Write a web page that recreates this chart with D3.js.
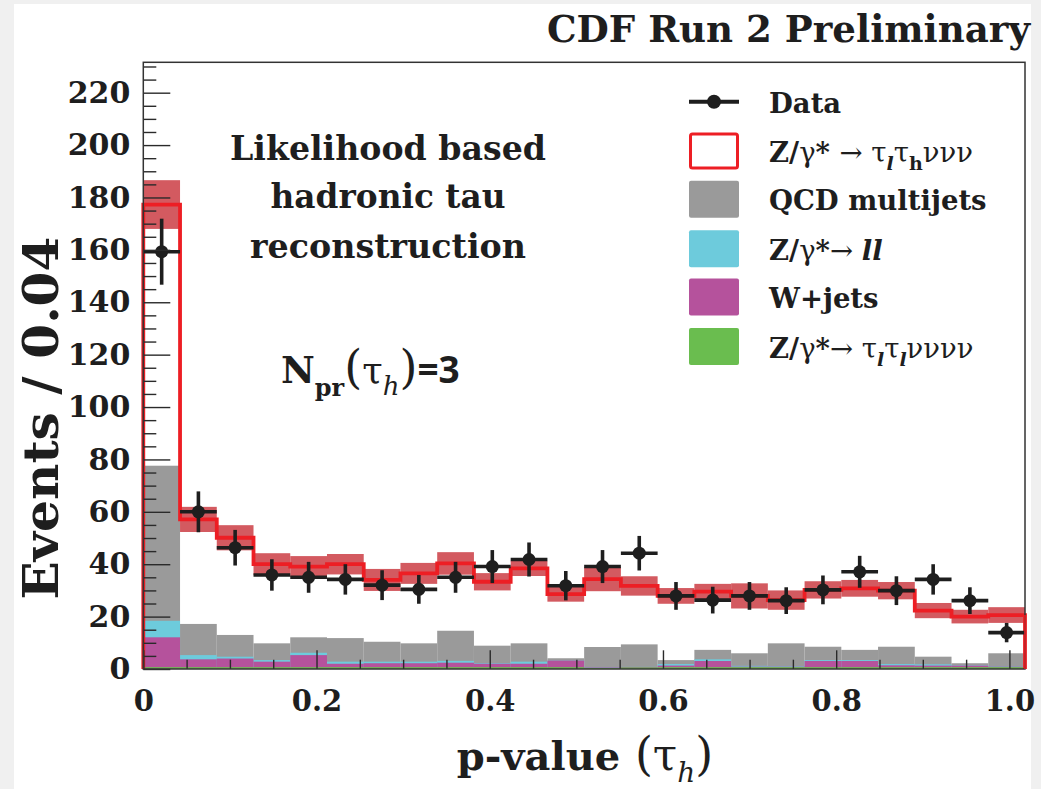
<!DOCTYPE html>
<html>
<head>
<meta charset="utf-8">
<script src="https://cdn.jsdelivr.net/npm/d3@7"></script>
<style>
  body { margin: 0; background: #f0f0f0; }
  svg { display: block; }
</style>
</head>
<body>
<svg id="chart" width="1041" height="789"></svg>
<script>
// values: 24 bins over p-value 0 .. 1.018
var xMax = 1.018;
var dataVals = [159.3, 60.0, 46.3, 35.9, 35.0, 34.2, 32.0, 30.4, 35.0, 39.1, 41.8, 31.8,
                39.1, 44.2, 27.9, 26.3, 27.9, 26.1, 30.2, 37.1, 29.9, 34.2, 26.1, 13.9];
var dataErr  = [12.6, 7.8, 6.8, 6.0, 5.9, 5.8, 5.7, 5.5, 5.9, 6.3, 6.5, 5.6,
                6.3, 6.6, 5.3, 5.1, 5.3, 5.1, 5.5, 6.1, 5.5, 5.8, 5.1, 3.7];
// stacked MC components (bottom to top)
var zttLL  = [0.7, 0.7, 0.7, 0.7, 0.7, 0.7, 0.7, 0.7, 0.7, 0.7, 0.7, 0.7,
              0.4, 0.6, 0.7, 0.7, 0.7, 0.7, 0.7, 0.7, 0.7, 0.7, 0.7, 0.7];
var wjets  = [11.4, 3.0, 3.3, 2.1, 4.6, 1.3, 1.5, 1.5, 1.7, 1.3, 1.3, 2.5,
              0.2, 0.1, 0.6, 2.35, 0.2, 0.2, 2.35, 2.35, 0.7, 0.6, 0.6, 0.2];
var zll    = [6.3, 1.6, 0.7, 0.6, 0.9, 0.8, 0.6, 0.6, 0.7, 0.2, 0.8, 0.0,
              0.1, 0.1, 0.6, 0.65, 0.3, 0.2, 0.35, 0.35, 0.5, 0.5, 0.1, 0.1];
var qcd    = [59.2, 11.9, 8.3, 6.4, 5.9, 9.0, 7.6, 7.0, 11.5, 6.7, 7.0, 0.9,
              7.7, 8.6, 1.5, 3.6, 4.8, 8.7, 5.1, 3.9, 6.6, 2.9, 0.8, 5.0];
var signal = [99.7, 39.9, 37.1, 30.2, 27.0, 28.2, 23.6, 26.7, 25.7, 24.4, 28.6, 24.5,
              25.9, 22.3, 24.5, 22.2, 21.9, 16.5, 21.7, 23.5, 21.4, 17.6, 17.8, 14.6];
var bandErr = [9.3, 4.8, 4.8, 4.2, 4.0, 3.9, 4.2, 4.0, 4.3, 3.3, 2.9, 2.9,
               4.6, 3.7, 3.0, 3.0, 4.8, 3.7, 3.3, 3.2, 3.3, 2.9, 2.6, 3.0];
var yTicks = [0, 20, 40, 60, 80, 100, 120, 140, 160, 180, 200, 220];
var xTicks = [0, 0.2, 0.4, 0.6, 0.8, 1.0];
var xTickLabels = ["0", "0.2", "0.4", "0.6", "0.8", "1.0"];

var serif = "'DejaVu Serif', serif";
var inkColor = "#1e1e1e";

var svg = d3.select("#chart");
svg.append("rect").attr("x", 14).attr("y", 4).attr("width", 1017).attr("height", 785).attr("fill", "#fff");

var x = d3.scaleLinear().domain([0, xMax]).range([143.3, 1025]);
var y = d3.scaleLinear().domain([0, 231.6]).range([669, 62.3]);
var nBins = dataVals.length;
var bw = xMax / nBins;

var bins = dataVals.map(function(d, i) {
  return {i: i, ztt: zttLL[i], wjets: wjets[i], zll: zll[i], qcd: qcd[i], sig: signal[i]};
});
var keys = ["ztt", "wjets", "zll", "qcd", "sig"];
var colors = {ztt: "#6abd4f", wjets: "#b5529c", zll: "#6dcbdc", qcd: "#9a9a9a", sig: "#ffffff"};
var layers = d3.stack().keys(keys)(bins);

// draw the stack, biggest layer first so the thin ones stay visible
var plot = svg.append("g");
layers.slice().reverse().forEach(function(layer) {
  if (layer.key === "sig") return;
  plot.append("g").selectAll("rect")
    .data(layer)
    .enter().append("rect")
    .attr("x", function(d, i) { return x(i * bw); })
    .attr("width", function(d, i) { return x((i + 1) * bw) - x(i * bw); })
    .attr("y", function(d) { return y(d[1]); })
    .attr("height", function(d) { return y(0) - y(d[1]); })
    .attr("fill", colors[layer.key]);
});

var totals = layers[layers.length - 1].map(function(d) { return d[1]; });

// uncertainty band
plot.append("g").selectAll("rect")
  .data(totals)
  .enter().append("rect")
  .attr("x", function(d, i) { return x(i * bw); })
  .attr("width", function(d, i) { return x((i + 1) * bw) - x(i * bw); })
  .attr("y", function(d, i) { return y(d + bandErr[i]); })
  .attr("height", function(d, i) { return y(d - bandErr[i]) - y(d + bandErr[i]); })
  .attr("fill", "#d35a60");

// red outline of the total
var pts = [[0, 0]];
totals.forEach(function(t, i) { pts.push([i * bw, t]); });
pts.push([xMax, totals[nBins - 1]]);
pts.push([xMax, 0]);
var stepLine = d3.line()
  .x(function(d) { return x(d[0]); })
  .y(function(d) { return y(d[1]); })
  .curve(d3.curveStepAfter);
plot.append("path").attr("d", stepLine(pts))
  .attr("fill", "none").attr("stroke", "#ed1e24").attr("stroke-width", 3.8);

// data points
var pg = svg.append("g");
dataVals.forEach(function(v, i) {
  var cx = x((i + 0.5) * bw);
  pg.append("line").attr("x1", x(i * bw)).attr("x2", x((i + 1) * bw))
    .attr("y1", y(v)).attr("y2", y(v)).attr("stroke", inkColor).attr("stroke-width", 3.6);
  pg.append("line").attr("x1", cx).attr("x2", cx)
    .attr("y1", y(v + dataErr[i])).attr("y2", y(v - dataErr[i])).attr("stroke", inkColor).attr("stroke-width", 3.6);
  pg.append("circle").attr("cx", cx).attr("cy", y(v)).attr("r", 6.5).attr("fill", inkColor);
});

// axes
var tickCol = "#2a2a2a";
function styleAxis(g) {
  g.select(".domain").remove();
  g.selectAll(".tick line").attr("stroke", tickCol).attr("stroke-width", 1.4);
}
var yMinor = d3.range(0, 231, 5).filter(function(v) { return v % 20 !== 0; });
svg.append("g").attr("transform", "translate(" + x(0) + ",0)")
  .call(d3.axisLeft(y).tickValues(yMinor).tickSizeInner(-13).tickSizeOuter(0).tickFormat(""))
  .call(styleAxis);
var yAx = svg.append("g").attr("transform", "translate(" + x(0) + ",0)")
  .call(d3.axisLeft(y).tickValues(yTicks).tickSizeInner(-27).tickSizeOuter(0).tickPadding(13))
  .call(styleAxis);
yAx.selectAll("text").attr("font-family", serif).attr("font-weight", "bold")
  .attr("font-size", 30).attr("fill", inkColor);

var xMinor = d3.range(0, 1.001, 0.05).filter(function(v) { return Math.abs(v / 0.2 - Math.round(v / 0.2)) > 1e-6; });
svg.append("g").attr("transform", "translate(0," + y(0) + ")")
  .call(d3.axisBottom(x).tickValues(xMinor).tickSizeInner(-9.3).tickSizeOuter(0).tickFormat(""))
  .call(styleAxis);
var xAx = svg.append("g").attr("transform", "translate(0," + y(0) + ")")
  .call(d3.axisBottom(x).tickValues(xTicks).tickSizeInner(-18.7).tickSizeOuter(0).tickPadding(21)
        .tickFormat(function(d, i) { return xTickLabels[i]; }))
  .call(styleAxis);
xAx.selectAll("text").attr("font-family", serif).attr("font-weight", "bold")
  .attr("font-size", 29).attr("fill", inkColor);

// frame
svg.append("rect").attr("x", x(0)).attr("y", y.range()[1])
  .attr("width", x(xMax) - x(0)).attr("height", y(0) - y.range()[1])
  .attr("fill", "none").attr("stroke", "#333").attr("stroke-width", 1.5);
// red outline sits on the frame edges
svg.append("line").attr("x1", x(xMax)).attr("x2", x(xMax)).attr("y1", y(totals[nBins - 1])).attr("y2", y(0))
  .attr("stroke", "#ed1e24").attr("stroke-width", 1.5);

// rich text helper: parts with optional subscript / weight / style
function rich(sel, parts) {
  var shift = 0;
  parts.forEach(function(p) {
    var ts = sel.append("tspan").text(p.t);
    var want = p.sub ? (p.dy || 8) : 0;
    if (want !== shift) { ts.attr("dy", want - shift); shift = want; }
    if (p.size) ts.attr("font-size", p.size);
    if (p.w) ts.attr("font-weight", p.w);
    if (p.i) ts.attr("font-style", "italic");
    if (p.fam) ts.attr("font-family", p.fam);
  });
}

// titles
svg.append("text").attr("x", 1030).attr("y", 42).attr("text-anchor", "end")
  .attr("font-family", serif).attr("font-weight", "bold").attr("font-size", 38)
  .attr("fill", inkColor).attr("textLength", 483).attr("lengthAdjust", "spacingAndGlyphs")
  .text("CDF Run 2 Preliminary");

svg.append("text").attr("transform", "translate(58,418) rotate(-90)").attr("text-anchor", "middle")
  .attr("font-family", serif).attr("font-weight", "bold").attr("font-size", 49)
  .attr("fill", inkColor).attr("textLength", 363).attr("lengthAdjust", "spacingAndGlyphs")
  .text("Events / 0.04");

var xl = svg.append("text").attr("x", 585).attr("y", 770).attr("text-anchor", "middle")
  .attr("font-family", serif).attr("font-weight", "bold").attr("font-size", 40).attr("fill", inkColor);
rich(xl, [{t: "p-value"}, {t: " (", w: "normal", size: 46}, {t: "τ", w: "normal", size: 44},
          {t: "h", sub: true, i: true, w: "normal", size: 28, dy: 12}, {t: ")", w: "normal", size: 46}]);

// annotation
var noteLines = ["Likelihood based", "hadronic tau", "reconstruction"];
var noteBase = [160, 208, 258];
var noteWidth = [316, 235, 276];
noteLines.forEach(function(s, i) {
  svg.append("text").attr("x", 388).attr("y", noteBase[i]).attr("text-anchor", "middle")
    .attr("font-family", serif).attr("font-weight", "bold").attr("font-size", 33)
    .attr("fill", inkColor).attr("textLength", noteWidth[i]).attr("lengthAdjust", "spacingAndGlyphs")
    .text(s);
});
var np = svg.append("text").attr("x", 281).attr("y", 383)
  .attr("font-family", serif).attr("font-weight", "bold").attr("font-size", 37).attr("fill", inkColor);
rich(np, [{t: "N"}, {t: "pr", sub: true, size: 24, dy: 13}, {t: "(", w: "normal", size: 46},
          {t: "τ", w: "normal"}, {t: "h", sub: true, i: true, w: "normal", size: 26, dy: 12},
          {t: ")", w: "normal", size: 46}, {t: "=3", fam: "'Open Sans', sans-serif"}]);

// legend
var legRows = [101.7, 151, 199.2, 248.7, 297, 346.5];
var legX = 689, legW = 50, legH = 37, legTextX = 769;
var lg = svg.append("g");
lg.append("line").attr("x1", legX).attr("x2", legX + legW).attr("y1", legRows[0]).attr("y2", legRows[0])
  .attr("stroke", inkColor).attr("stroke-width", 4);
lg.append("circle").attr("cx", legX + legW / 2).attr("cy", legRows[0]).attr("r", 7).attr("fill", inkColor);
var legBoxes = [
  {fill: "#fff", stroke: "#ed1e24"},
  {fill: colors.qcd}, {fill: colors.zll}, {fill: colors.wjets}, {fill: colors.ztt}
];
legBoxes.forEach(function(b, i) {
  var r = lg.append("rect").attr("x", legX + (b.stroke ? 1.5 : 0)).attr("y", legRows[i + 1] - legH / 2 + (b.stroke ? 1.5 : 0))
    .attr("width", legW - (b.stroke ? 3 : 0)).attr("height", legH - (b.stroke ? 3 : 0))
    .attr("rx", 2).attr("fill", b.fill);
  if (b.stroke) r.attr("stroke", b.stroke).attr("stroke-width", 3);
});
var legTexts = [
  [{t: "Data"}],
  [{t: "Z/"}, {t: "γ", w: "normal"}, {t: "* "}, {t: "→ τ", w: "normal"}, {t: "l", sub: true, i: true, size: 19},
   {t: "τ", w: "normal"}, {t: "h", sub: true, size: 19}, {t: "ννν", w: "normal"}],
  [{t: "QCD multijets"}],
  [{t: "Z/"}, {t: "γ", w: "normal"}, {t: "*"}, {t: "→ ", w: "normal"}, {t: "ll", i: true}],
  [{t: "W+jets"}],
  [{t: "Z/"}, {t: "γ", w: "normal"}, {t: "*"}, {t: "→ τ", w: "normal"}, {t: "l", sub: true, i: true, size: 19},
   {t: "τ", w: "normal"}, {t: "l", sub: true, i: true, size: 19}, {t: "νννν", w: "normal"}]
];
legTexts.forEach(function(parts, i) {
  var t = lg.append("text").attr("x", legTextX).attr("y", legRows[i] + 11)
    .attr("font-family", serif).attr("font-weight", "bold").attr("font-size", 27.5).attr("fill", inkColor);
  rich(t, parts);
});
</script>
</body>
</html>
